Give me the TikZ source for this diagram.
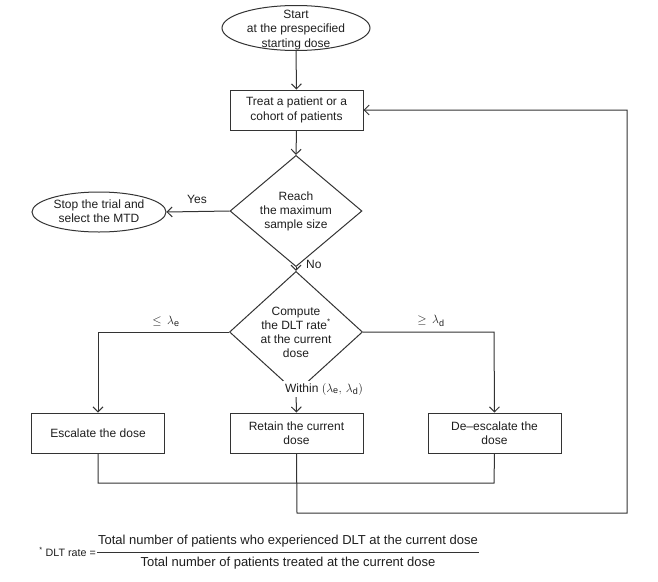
\documentclass[tikz,border=0pt]{standalone}
\usepackage{fontspec}
\setmainfont{Liberation Sans}
\usetikzlibrary{shapes.geometric,arrows.meta}
\definecolor{ln}{HTML}{333333}
\definecolor{tx}{HTML}{1E1E1E}
\newcommand{\subx}[1]{\mbox{\fontsize{9}{9}\selectfont #1}}
\begin{document}
\begin{tikzpicture}[x=1pt,y=-1pt,
  every node/.style={text=tx},
  txt/.style={align=center,font=\fontsize{12}{14.5}\selectfont,inner sep=0pt},
  ell/.style={draw=ln,line width=1pt,ellipse,inner sep=0pt},
  boxn/.style={draw=ln,line width=1pt,rectangle,minimum width=133pt,minimum height=40pt,align=center,font=\fontsize{12}{14.5}\selectfont,inner sep=0pt},
  dia/.style={draw=ln,line width=1pt,diamond,inner sep=0pt,align=center,font=\fontsize{12}{14}\selectfont},
  conn/.style={draw=ln,line width=1pt},
  arr/.style={conn,-{Straight Barb[length=5pt,width=10pt]}},
  lab/.style={font=\fontsize{12}{14}\selectfont,inner sep=1pt}
]
\useasboundingbox (0,0) rectangle (658,581);
% nodes
\node[ell,minimum width=148pt,minimum height=45pt] (start) at (296,28) {};
\node[txt] (starttxt) at (296,30) {Start\\at the prespecified\\starting dose};
\node[boxn] (treat) at (296.5,110) {Treat a patient or a\\cohort of patients};
\node[dia,minimum width=132pt,minimum height=80pt] (reach) at (296,211) {Reach\\the maximum\\sample size};
\node[ell,minimum width=134pt,minimum height=40pt] (stop) at (99,212) {};
\node[txt] (stoptxt) at (99,211) {Stop the trial and\\select the MTD};
\node[dia,minimum width=133pt,minimum height=84pt] (comp) at (296,332) {Compute\\the DLT rate\textsuperscript{*}\\at the current\\dose};
\node[boxn] (esc) at (98,433) {Escalate the dose};
\node[boxn] (ret) at (296.5,433) {Retain the current\\dose};
\node[boxn] (desc) at (494.5,433) {De{\textendash}escalate the\\dose};
% coordinates
\coordinate (cl) at (98,332);
\coordinate (cr) at (494,332);
\coordinate (m1) at (98,483);
\coordinate (m2) at (494,483);
\coordinate (b1) at (297,513);
\coordinate (b2) at (627,513);
\coordinate (b3) at (627,110);
% connectors
\draw[arr] (start.south) -- (treat.north);
\draw[arr] (treat.south) -- (reach.north);
\draw[arr] (reach.west) -- (stop.east);
\draw[arr] (reach.south) -- (comp.north);
\draw[arr] (comp.west) -- (cl) -- (esc.north);
\draw[arr] (comp.east) -- (cr) -- (desc.north);
\draw[arr] (comp.south) -- (ret.north);
\draw[conn] (esc.south) -- (m1) -- (m2) -- (desc.south);
\draw[arr] (ret.south) -- (b1) -- (b2) -- (b3) -- (treat.east);
% labels
\node[lab] (yes) at (197,199) {Yes};
\node[lab,anchor=west] (no) at (305,264) {No};
\node[lab] (le) at (166,321) {$\le\,\lambda_{\subx{e}}$};
\node[lab] (ge) at (431,321) {$\ge\,\lambda_{\subx{d}}$};
\node[lab,fill=white,inner sep=2pt] (within) at (324,389) {Within $\bigl(\lambda_{\subx{e}},\,\lambda_{\subx{d}}\bigr)$};
% footnote
\node[anchor=east,font=\fontsize{10.7}{12}\selectfont,inner sep=0pt] (dlt) at (96,552) {\textsuperscript{*} DLT rate =};
\node[font=\fontsize{13}{14}\selectfont,inner sep=0pt] (num) at (288,541) {Total number of patients who experienced DLT at the current dose};
\node[font=\fontsize{13}{14}\selectfont,inner sep=0pt] (den) at (288,563) {Total number of patients treated at the current dose};
\draw[conn,line width=0.8pt] (97,552) -- (479,552);
\end{tikzpicture}
\end{document}
